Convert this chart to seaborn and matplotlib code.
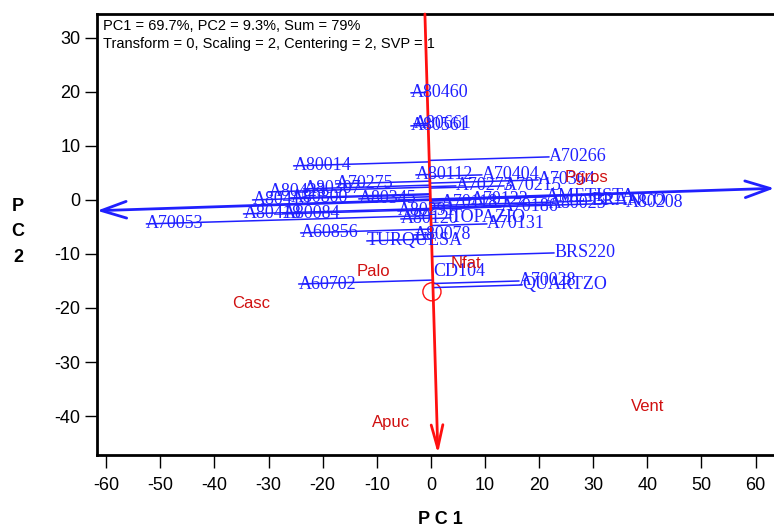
import numpy as np
import pandas as pd
import matplotlib
matplotlib.use("Agg")
import matplotlib.pyplot as plt
import seaborn as sns

# Genotype scores (PC1, PC2)
genotypes = ["A80460", "A80561", "A80661", "A80014", "A70266", "A80112", "A70404",
             "A70364", "A70275", "A70273", "A70215", "A80423", "A80307", "A80415",
             "A80800", "A80345", "A80418", "A80084", "A70053", "A60856", "TURQUESA",
             "A80078", "A80120", "TOPAZIO", "A70131", "A80291", "A70118", "A70122",
             "A70186", "A80025", "AMETISTA", "BRANCO", "A80208", "BRS220", "CD104",
             "A70028", "QUARTZO", "A60702"]
gen_pc1 = [-3.70, -3.70, -3.15, -25.37, 21.85, -2.78, 9.44,
           19.81, -17.59, 4.63, 13.52, -30.00, -23.52, -32.96,
           -25.93, -13.33, -34.63, -27.41, -52.59, -24.07, -11.85,
           -3.15, -5.56, 3.70, 10.37, -6.11, 1.85, 7.41,
           12.96, 21.85, 21.30, 29.63, 36.11, 22.78, 0.37,
           16.30, 16.85, -24.44]
gen_pc2 = [19.81, 13.70, 14.07, 6.30, 7.96, 4.63, 4.63,
           3.70, 2.96, 2.59, 2.59, 1.48, 2.04, 0.00,
           0.37, 0.19, -2.59, -2.59, -4.44, -6.11, -7.59,
           -6.48, -3.52, -3.33, -4.44, -2.04, -0.56, 0.00,
           -1.30, -0.74, 0.56, -0.19, -0.56, -9.81, -13.33,
           -15.00, -15.74, -15.56]

# Environment scores (PC1, PC2)
environments = ["Pgros", "Nfat", "Palo", "Casc", "Apuc", "Vent"]
env_pc1 = [28.7, 6.5, -10.6, -33.3, -7.4, 40.0]
env_pc2 = [4.1, -11.7, -13.3, -19.1, -41.1, -38.3]

# Average-environment coordination axes and the average environment marker
abscissa_pc1 = [-61.7, 63.5]
abscissa_pc2 = [-2.0, 2.15]
ordinate_pc1 = [-1.1, 1.3]
ordinate_pc2 = [34.4, -47.0]
avg_env_pc1 = [0.2]
avg_env_pc2 = [-17.0]

info_lines = ["PC1 = 69.7%, PC2 = 9.3%, Sum = 79%",
              "Transform = 0, Scaling = 2, Centering = 2, SVP = 1"]

sns.set_theme(style="white")
plt.rcParams["font.family"] = ["Liberation Sans", "DejaVu Sans"]
plt.rcParams["axes.unicode_minus"] = False

fig = plt.figure(figsize=(7.74, 5.29), dpi=100)
ax = fig.add_axes([97 / 774, 1 - 455 / 529, 1 - 97 / 774 + 0.002, (455 - 14) / 529])

blue = "#2020ff"
red = "#ff1010"

# projection segments from each genotype onto the ordinate axis
od = np.array([ordinate_pc1[1] - ordinate_pc1[0], ordinate_pc2[1] - ordinate_pc2[0]])
od = od / np.linalg.norm(od)
o0 = np.array([ordinate_pc1[0], ordinate_pc2[0]])
rows = []
for name, x, y in zip(genotypes, gen_pc1, gen_pc2):
    p = np.array([x, y])
    foot = o0 + np.dot(p - o0, od) * od
    rows.append({"g": name, "x": x, "y": y, "k": 0})
    rows.append({"g": name, "x": foot[0], "y": foot[1], "k": 1})
seg = pd.DataFrame(rows)
sns.lineplot(data=seg, x="x", y="y", units="g", estimator=None, sort=False,
             color=blue, lw=1.1, ax=ax, legend=False)

# abscissa with arrowheads at both ends
ax.annotate("", xy=(abscissa_pc1[1], abscissa_pc2[1]), xytext=(abscissa_pc1[0], abscissa_pc2[0]),
            arrowprops=dict(arrowstyle="<->,head_length=1.5,head_width=0.5",
                            color=blue, lw=2, shrinkA=0, shrinkB=0))

# ordinate with arrowhead at the bottom
ax.annotate("", xy=(ordinate_pc1[1], ordinate_pc2[1]), xytext=(ordinate_pc1[0], ordinate_pc2[0]),
            arrowprops=dict(arrowstyle="->,head_length=1.4,head_width=0.35",
                            color=red, lw=2, shrinkA=0, shrinkB=0))

sns.scatterplot(x=avg_env_pc1, y=avg_env_pc2, ax=ax, s=170, facecolor="none",
                edgecolor=red, linewidth=1.0, marker="o", legend=False)

for name, x, y in zip(genotypes, gen_pc1, gen_pc2):
    ax.text(x, y, name, color=blue, fontsize=13, ha="left", va="center",
            family=["Liberation Serif", "DejaVu Serif"])

for name, x, y in zip(environments, env_pc1, env_pc2):
    ax.text(x, y, name, color="#d01010", fontsize=12, ha="center", va="center")

fig.text(103 / 774, 1 - 26 / 529, info_lines[0], fontsize=10.5,
         ha="left", va="center", color="black")
fig.text(103 / 774, 1 - 44 / 529, info_lines[1], fontsize=10.5,
         ha="left", va="center", color="black")

ax.set_xlim(-61.7, 63.7)
ax.set_ylim(-47.2, 34.4)
ax.set_xticks(np.arange(-60, 61, 10))
ax.set_yticks(np.arange(-40, 31, 10))
ax.tick_params(axis="both", direction="out", length=9, width=1, color="black",
               labelcolor="black", labelsize=13, bottom=True, left=True)
ax.tick_params(axis="x", pad=7)
ax.tick_params(axis="y", pad=3)
for s in ["left", "bottom", "top"]:
    ax.spines[s].set_visible(True)
    ax.spines[s].set_color("black")
    ax.spines[s].set_linewidth(2)
ax.spines["right"].set_visible(False)
ax.set_xlabel("")
ax.set_ylabel("")

fig.text(18 / 774, 1 - 232 / 529, "P\nC\n2", fontsize=13, fontweight="bold",
         ha="center", va="center", linespacing=1.65, color="black")
fig.text(440 / 774, 1 - 519 / 529, "P C 1", fontsize=13, fontweight="bold",
         ha="center", va="center", color="black")

fig.savefig("out.png", dpi=100)
